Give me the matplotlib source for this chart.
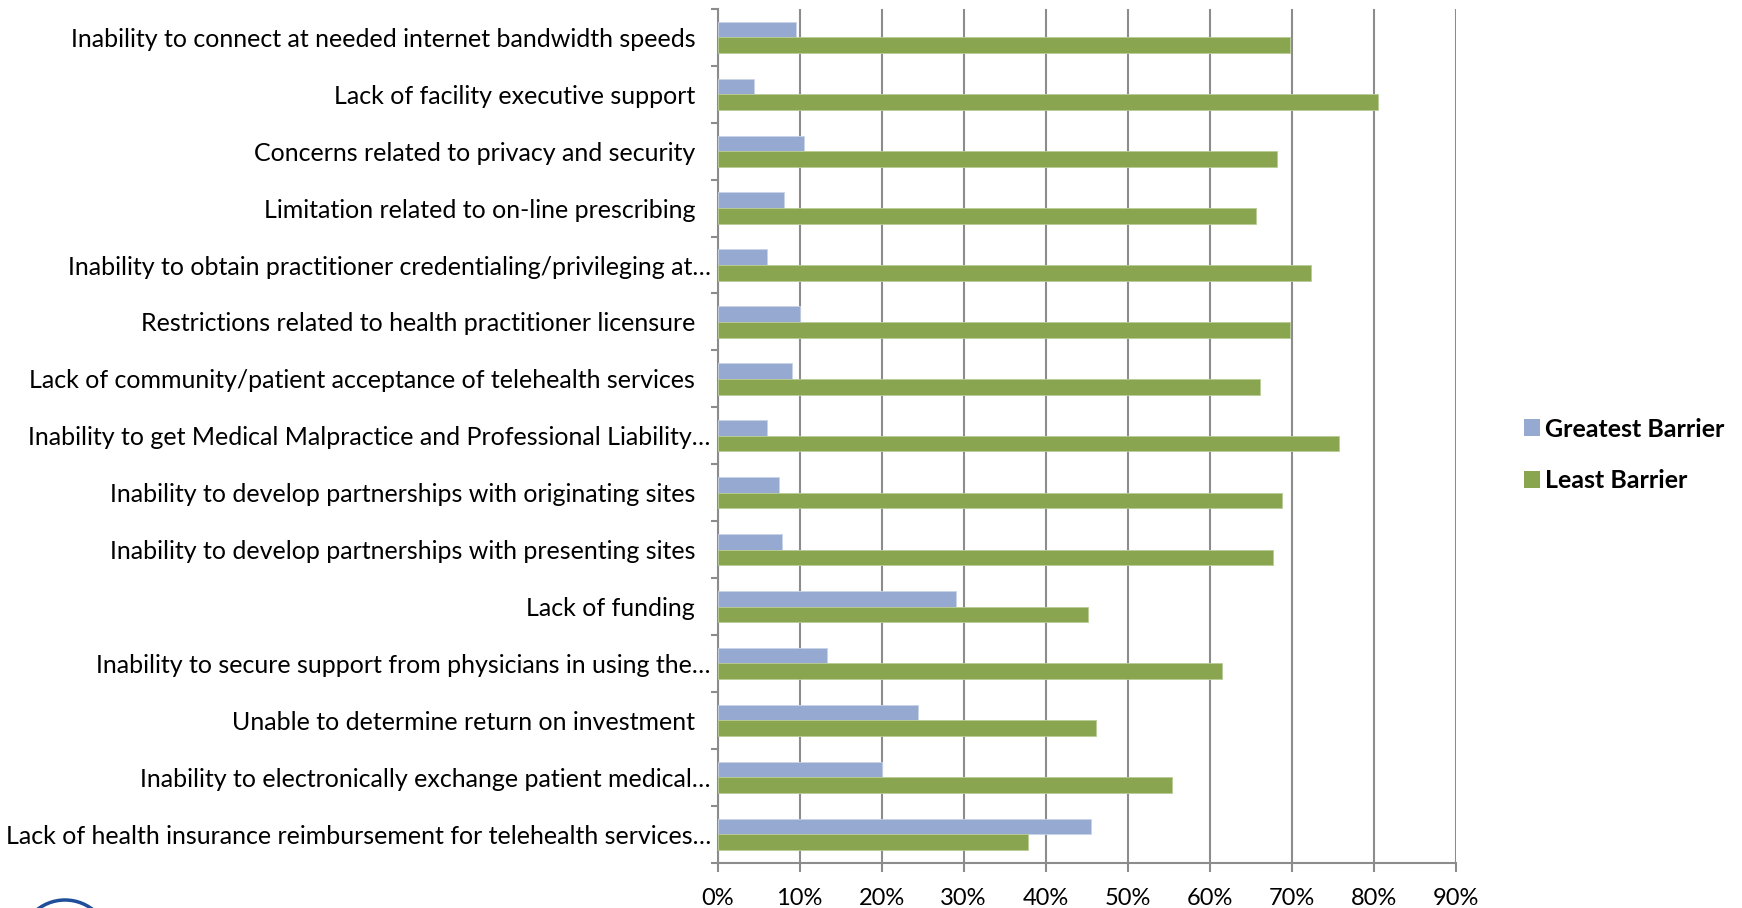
import matplotlib
matplotlib.use("Agg")
import matplotlib.pyplot as plt
import numpy as np
from matplotlib.patches import Ellipse, Patch
from matplotlib.ticker import MultipleLocator, FixedLocator, PercentFormatter

categories = [
    "Inability to connect at needed internet bandwidth speeds",
    "Lack of facility executive support",
    "Concerns related to privacy and security",
    "Limitation related to on-line prescribing",
    "Inability to obtain practitioner credentialing/privileging at\u2026",
    "Restrictions related to health practitioner licensure",
    "Lack of community/patient acceptance of telehealth services",
    "Inability to get Medical Malpractice and Professional Liability\u2026",
    "Inability to develop partnerships with originating sites",
    "Inability to develop partnerships with presenting sites",
    "Lack of funding",
    "Inability to secure support from physicians in using the\u2026",
    "Unable to determine return on investment",
    "Inability to electronically exchange patient medical\u2026",
    "Lack of health insurance reimbursement for telehealth services\u2026",
]
greatest_barrier = [9.6, 4.5, 10.6, 8.1, 6.0, 10.0, 9.1, 6.0, 7.5, 7.9, 29.1, 13.4, 24.4, 20.0, 45.5]
least_barrier = [69.8, 80.5, 68.2, 65.7, 72.4, 69.8, 66.1, 75.8, 68.9, 67.8, 45.2, 61.5, 46.1, 55.4, 37.9]
series_names = ["Greatest Barrier", "Least Barrier"]

BLUE = "#95A9D1"
GREEN = "#8AA54F"
GRID = "#8C8C8C"
FONT = "Lato"

fig = plt.figure(figsize=(17.42, 9.08), dpi=100)
ax = fig.add_axes([717.5 / 1742, 1 - 862.7 / 908, (1455.5 - 717.5) / 1742, (862.7 - 8.9) / 908])

y = np.arange(len(categories))
h = 0.275
ax.barh(y - h / 2, greatest_barrier, height=h, color=BLUE, edgecolor="#C9D3E8", linewidth=0.6, zorder=3)
ax.barh(y + h / 2, least_barrier, height=h, color=GREEN, edgecolor="#B9CC95", linewidth=0.6, zorder=3)

ax.set_xlim(0, 90)
ax.set_ylim(len(categories) - 0.5, -0.5)

ax.xaxis.set_major_locator(MultipleLocator(10))
ax.xaxis.set_major_formatter(PercentFormatter(decimals=0))
ax.grid(axis="x", color=GRID, linewidth=1.5, zorder=0)

labels = [c if c.endswith("\u2026") else c + "\u2002\u2009" for c in categories]
ax.set_yticks(y)
ax.set_yticklabels(labels, fontsize=18, family=FONT)
ax.yaxis.set_minor_locator(FixedLocator(np.arange(-0.5, len(categories), 1.0)))
ax.tick_params(axis="y", which="major", length=0, pad=4.8)
ax.tick_params(axis="y", which="minor", length=5, width=1.5, color=GRID)
ax.tick_params(axis="x", which="major", length=6.5, width=1.5, color=GRID, pad=12, labelsize=17)
for t in ax.get_xticklabels():
    t.set_family(FONT)

for s in ["top", "right"]:
    ax.spines[s].set_visible(False)
for s in ["left", "bottom"]:
    ax.spines[s].set_color(GRID)
    ax.spines[s].set_linewidth(1.5)

handles = [Patch(facecolor=BLUE), Patch(facecolor=GREEN)]
leg = fig.legend(handles, series_names, loc="center left", bbox_to_anchor=(1501 / 1742, 0.499),
                 frameon=False, handlelength=0.65, handleheight=0.65, handletextpad=0.2,
                 labelspacing=1.15, prop={"family": FONT, "weight": "bold", "size": 18})

# partial seal logo at bottom left
fig.patches.append(Ellipse((65 / 1742, -37 / 908), 90 / 1742, 90 / 908, transform=fig.transFigure,
                           fill=False, edgecolor="#1F4E9A", linewidth=2.5))

fig.savefig("out.png", dpi=100)
